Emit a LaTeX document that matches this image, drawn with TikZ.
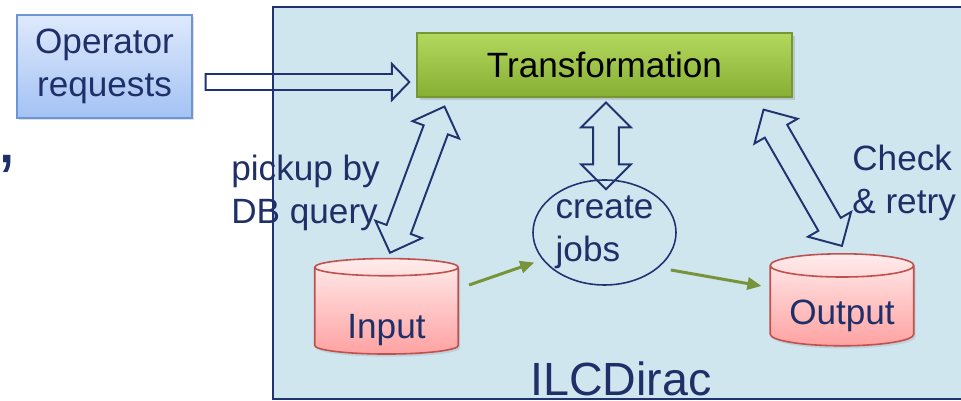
\documentclass[tikz,border=0pt]{standalone}
\usepackage{fontspec}
\setmainfont{Liberation Sans}
\usetikzlibrary{positioning, arrows.meta, calc, shapes.geometric, shapes.arrows, shadows}
\definecolor{DiracBg}{HTML}{CFE6EE}
\definecolor{DiracLine}{HTML}{1F3370}
\definecolor{NavyTxt}{HTML}{1F3069}
\definecolor{OpTop}{HTML}{DEE9FC}
\definecolor{OpBot}{HTML}{A3C2F4}
\definecolor{OpLine}{HTML}{6B95D6}
\definecolor{TrTop}{HTML}{B4D85E}
\definecolor{TrBot}{HTML}{86AF34}
\definecolor{TrLine}{HTML}{769834}
\definecolor{DbTop}{HTML}{FFECEC}
\definecolor{DbBot}{HTML}{FFA2A2}
\definecolor{DbLine}{HTML}{C0504D}
\definecolor{FlowGreen}{HTML}{77933C}

\tikzset{
  txt/.style={font=\fontsize{20}{24.5}\selectfont, text=NavyTxt},
  opbox/.style={txt, draw=OpLine, line width=0.8pt, top color=OpTop, bottom color=OpBot,
    minimum width=35mm, minimum height=20.6mm, align=center, inner sep=0pt,
    drop shadow={opacity=0.25, shadow xshift=1.2pt, shadow yshift=-1.2pt}},
  trbox/.style={font=\fontsize{20}{24.5}\selectfont, text=black, draw=TrLine, line width=0.6pt,
    top color=TrTop, bottom color=TrBot, minimum width=75mm, minimum height=12.8mm, inner sep=0pt,
    drop shadow={opacity=0.3, shadow xshift=1.5pt, shadow yshift=-1.5pt}},
  db/.style={txt, cylinder, shape border rotate=90, aspect=0.22, draw=DbLine, line width=0.9pt,
    top color=DbTop, bottom color=DbBot, minimum width=28.7mm, minimum height=18.4mm, inner sep=0pt,
    text depth=4.2pt, drop shadow={opacity=0.2, shadow xshift=1pt, shadow yshift=-1.5pt}},
  jobsell/.style={txt, ellipse, draw=DiracLine, line width=0.9pt, minimum width=28.6mm,
    minimum height=21mm, align=left, inner sep=0pt},
  oneway/.style={single arrow, draw=DiracLine, line width=1.1pt, inner xsep=0pt, inner ysep=4pt,
    minimum width=19.4pt, single arrow head extend=5.7pt, single arrow tip angle=92,
    single arrow head indent=0pt},
  twoway/.style={double arrow, draw=DiracLine, line width=1.1pt, inner xsep=0pt, inner ysep=6.8pt,
    minimum width=27.3pt, double arrow head extend=6.8pt, double arrow tip angle=90,
    double arrow head indent=0pt},
  flow/.style={-{Triangle[length=8pt, width=7pt]}, FlowGreen, line width=1.7pt},
}

% hollow arrow node laid between two tips
\newcommand\bothways[3]{%
  \path let \p1=($(#3)-(#2)$), \n1={veclen(\x1,\y1)}, \n2={atan2(\y1,\x1)} in
    node[twoway, minimum height=\n1, rotate=\n2] (#1) at ($(#2)!0.5!(#3)$) {};}
\newcommand\oneway[3]{%
  \path let \p1=($(#3)-(#2)$), \n1={veclen(\x1,\y1)}, \n2={atan2(\y1,\x1)} in
    node[oneway, minimum height=\n1, rotate=\n2] (#1) at ($(#2)!0.5!(#3)$) {};}

\begin{document}
\begin{tikzpicture}[x=0.2mm, y=-0.2mm]
  \useasboundingbox (0,0) rectangle (961,401);

  %% ILCDirac frame
  \draw[fill=DiracBg, draw=DiracLine, line width=1.1pt] (273,7) rectangle (990,399);
  \node[txt, font=\fontsize{26.5}{30}\selectfont, anchor=base west, inner sep=0pt] (dirac)
    at (530,396) {ILCDirac};

  %% boxes and databases
  \node[opbox] (op) at (104.5,66.5) {Operator\\requests};
  \node[trbox] (tr) at (604.5,65) {Transformation};
  \node[db, text height=35pt] (in) at (386.5,311) {Input};
  \node[db, text height=25.8pt] (out) at (842,306) {Output};
  \node[jobsell] (jobs) at (604.5,232.5) {create\\jobs};

  %% side labels
  \node[txt, anchor=north west, align=left, inner sep=0pt] (pick) at (231,155) {pickup by\\DB query};
  \node[txt, anchor=north west, align=left, inner sep=0pt] (check) at (852,145) {Check\\\& retry};
  \node[txt, font=\fontsize{44}{44}\selectfont, anchor=north east, inner sep=0pt] (tick)
    at (16,155) {’};

  %% tips of the hollow arrows
  \coordinate (opTail) at ($(op.east)+(9,15.5)$);
  \coordinate (opTip)  at ($(tr.west)+(-11,17)$);
  \coordinate (pickHi) at ($(tr.south west)+(28,9)$);
  \coordinate (pickLo) at ($(in.north)+(3.5,-5)$);
  \coordinate (midHi)  at ($(tr.south)+(1.5,5)$);
  \coordinate (midLo)  at ($(jobs.north)+(1.5,10)$);
  \coordinate (chkHi)  at ($(tr.south east)+(-29,12)$);
  \coordinate (chkLo)  at ($(out.north)+(0,-7)$);

  \oneway{request}{opTail}{opTip}
  \bothways{pickup}{pickLo}{pickHi}
  \bothways{create}{midLo}{midHi}
  \bothways{retry}{chkLo}{chkHi}

  %% job flow
  \draw[flow] ($(in.east)+(10,-26)$) -- ($(jobs.west)+(2,30)$);
  \draw[flow] ($(jobs.east)+(-6,37.5)$) -- ($(out.west)+(-8,-20)$);
\end{tikzpicture}
\end{document}
